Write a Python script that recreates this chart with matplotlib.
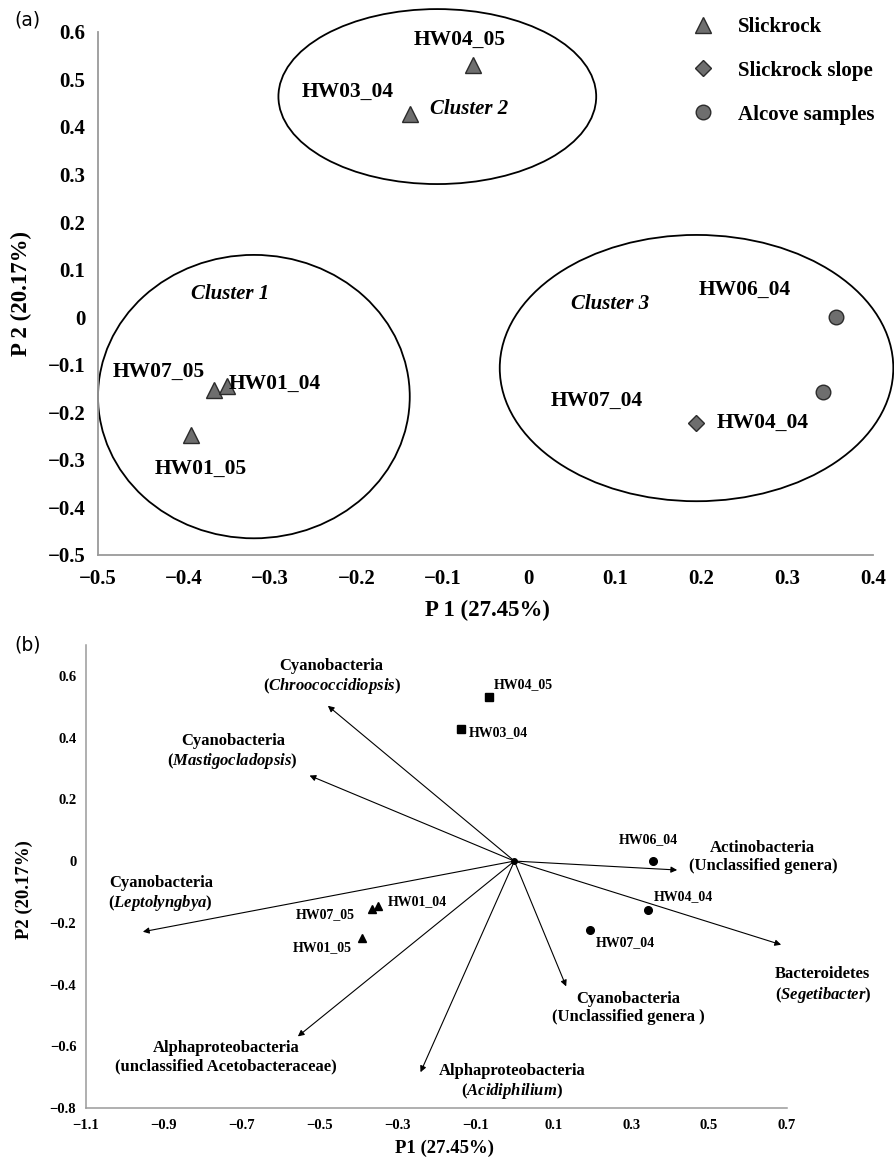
import matplotlib
matplotlib.use('Agg')
import matplotlib.pyplot as plt
from matplotlib.patches import Ellipse
from matplotlib.ticker import FuncFormatter, FixedLocator

plt.rcParams['font.family'] = ['Liberation Serif', 'DejaVu Serif']
plt.rcParams['font.weight'] = 'bold'
plt.rcParams['axes.labelweight'] = 'bold'
plt.rcParams['mathtext.fontset'] = 'custom'
plt.rcParams['mathtext.it'] = 'Liberation Serif:italic:bold'
plt.rcParams['mathtext.rm'] = 'Liberation Serif:bold'

# sample scores (same in both panels)
samples = ['HW04_05', 'HW03_04', 'HW07_05', 'HW01_04', 'HW01_05', 'HW06_04', 'HW04_04', 'HW07_04']
p1 = [-0.064, -0.138, -0.365, -0.350, -0.392, 0.357, 0.342, 0.194]
p2 = [0.531, 0.428, -0.154, -0.145, -0.248, 0.000, -0.157, -0.223]
site = ['Slickrock', 'Slickrock', 'Slickrock', 'Slickrock', 'Slickrock',
        'Alcove samples', 'Alcove samples', 'Slickrock slope']
cluster = [2, 2, 1, 1, 1, 3, 3, 3]

# cluster ellipses, panel (a)
clusters = ['Cluster 1', 'Cluster 2', 'Cluster 3']
ell_x = [-0.319, -0.106, 0.195]
ell_y = [-0.167, 0.464, -0.107]
ell_w = [0.362, 0.369, 0.457]
ell_h = [0.596, 0.368, 0.560]

# taxa loadings, panel (b)
taxa = ['Cyanobacteria\n($\\mathit{Chroococcidiopsis}$)',
        'Cyanobacteria\n($\\mathit{Mastigocladopsis}$)',
        'Cyanobacteria\n($\\mathit{Leptolyngbya}$)',
        'Alphaproteobacteria\n(unclassified Acetobacteraceae)',
        'Alphaproteobacteria\n($\\mathit{Acidiphilium}$)',
        'Cyanobacteria\n(Unclassified genera )',
        'Bacteroidetes\n($\\mathit{Segetibacter}$)',
        'Actinobacteria\n(Unclassified genera)']
load1 = [-0.479, -0.526, -0.954, -0.556, -0.241, 0.133, 0.685, 0.418]
load2 = [0.503, 0.277, -0.229, -0.568, -0.684, -0.406, -0.271, -0.029]

# label placement (layout)
a_lab = {'HW04_05': (-0.080, 0.583), 'HW03_04': (-0.210, 0.474), 'HW07_05': (-0.429, -0.116),
         'HW01_04': (-0.295, -0.141), 'HW01_05': (-0.381, -0.320), 'HW06_04': (0.251, 0.057),
         'HW04_04': (0.272, -0.223), 'HW07_04': (0.079, -0.177)}
a_clu = [(-0.347, 0.048), (-0.069, 0.438), (0.095, 0.027)]
b_lab = {'HW04_05': (-0.052, 0.571, 'left'), 'HW03_04': (-0.117, 0.416, 'left'),
         'HW07_05': (-0.486, -0.174, 'center'), 'HW01_04': (-0.325, -0.132, 'left'),
         'HW01_05': (-0.494, -0.281, 'center'), 'HW06_04': (0.343, 0.071, 'center'),
         'HW04_04': (0.433, -0.116, 'center'), 'HW07_04': (0.286, -0.265, 'center')}
taxa_pos = [(-0.469, 0.597), (-0.723, 0.352), (-0.908, -0.106), (-0.741, -0.635),
            (-0.006, -0.716), (0.292, -0.477), (0.792, -0.403), (0.638, 0.013)]


def fmt(v, pos):
    if abs(v) < 1e-9:
        return '0'
    return f'{v:.1f}'.replace('-', '\u2212')


fig = plt.figure(figsize=(8.95, 11.6), dpi=100)

# ---------------- panel (a)
ax = fig.add_axes([0.1095, 0.5216, 0.866, 0.4509])
markers_a = {'Slickrock': ('^', 12), 'Slickrock slope': ('D', 8.5), 'Alcove samples': ('o', 10.5)}
for name in ['Slickrock', 'Slickrock slope', 'Alcove samples']:
    xs = [x for x, s in zip(p1, site) if s == name]
    ys = [y for y, s in zip(p2, site) if s == name]
    m, ms = markers_a[name]
    ax.plot(xs, ys, linestyle='none', marker=m, ms=ms, mfc='#6e6e6e', mec='#2b2b2b',
            mew=1.0, label=name, zorder=3)

for i in range(len(clusters)):
    ax.add_patch(Ellipse((ell_x[i], ell_y[i]), ell_w[i], ell_h[i], fill=False,
                         ec='black', lw=1.3, clip_on=False))
    ax.text(a_clu[i][0], a_clu[i][1], clusters[i], style='italic', fontsize=15,
            ha='center', va='center')

for s in samples:
    x, y = a_lab[s]
    ax.text(x, y, s, fontsize=15.5, ha='center', va='center')

ax.set_xlim(-0.5, 0.4)
ax.set_ylim(-0.5, 0.6)
ax.xaxis.set_major_locator(FixedLocator([-0.5, -0.4, -0.3, -0.2, -0.1, 0, 0.1, 0.2, 0.3, 0.4]))
ax.yaxis.set_major_locator(FixedLocator([-0.5, -0.4, -0.3, -0.2, -0.1, 0, 0.1, 0.2, 0.3, 0.4, 0.5, 0.6]))
ax.xaxis.set_major_formatter(FuncFormatter(fmt))
ax.yaxis.set_major_formatter(FuncFormatter(fmt))
ax.tick_params(length=0, labelsize=15)
ax.tick_params(axis='y', pad=9)
ax.tick_params(axis='x', pad=10)
for sp in ['top', 'right']:
    ax.spines[sp].set_visible(False)
for sp in ['left', 'bottom']:
    ax.spines[sp].set_color('#9a9a9a')
    ax.spines[sp].set_linewidth(1.3)
ax.set_xlabel('P 1 (27.45%)', fontsize=16.5)
ax.set_ylabel('P 2 (20.17%)', fontsize=16.5)
ax.xaxis.set_label_coords(0.503, -0.086)
ax.yaxis.set_label_coords(-0.085, 0.499)

ax.legend(loc='upper left', bbox_to_anchor=(0.762, 0.9945), bbox_transform=fig.transFigure,
          frameon=False, fontsize=15, handlelength=1.0, handletextpad=1.17,
          labelspacing=1.15, borderpad=0)

fig.text(0.031, 0.983, '(a)', family='DejaVu Sans', fontsize=13.5, fontweight='normal',
         ha='center', va='center')

# ---------------- panel (b)
bx = fig.add_axes([0.0961, 0.0448, 0.7832, 0.3992])
markers_b = {1: '^', 2: 's', 3: 'o'}
for c in [1, 2, 3]:
    xs = [x for x, k in zip(p1, cluster) if k == c]
    ys = [y for y, k in zip(p2, cluster) if k == c]
    bx.plot(xs, ys, linestyle='none', marker=markers_b[c], ms=5.5, color='black', zorder=3)

for i in range(len(taxa)):
    bx.annotate('', xy=(load1[i], load2[i]), xytext=(0, 0),
                arrowprops=dict(arrowstyle='-|>', color='black', lw=0.8,
                                mutation_scale=9, shrinkA=0, shrinkB=0))
    bx.text(taxa_pos[i][0], taxa_pos[i][1], taxa[i], fontsize=12, ha='center',
            va='center', multialignment='center', linespacing=1.15)
bx.plot([0], [0], 'o', color='black', ms=4, zorder=4)

for s in samples:
    x, y, ha = b_lab[s]
    bx.text(x, y, s, fontsize=10, ha=ha, va='center')

bx.set_xlim(-1.1, 0.7)
bx.set_ylim(-0.8, 0.7)
bx.xaxis.set_major_locator(FixedLocator([-1.1, -0.9, -0.7, -0.5, -0.3, -0.1, 0.1, 0.3, 0.5, 0.7]))
bx.yaxis.set_major_locator(FixedLocator([-0.8, -0.6, -0.4, -0.2, 0, 0.2, 0.4, 0.6]))
bx.xaxis.set_major_formatter(FuncFormatter(fmt))
bx.yaxis.set_major_formatter(FuncFormatter(fmt))
bx.tick_params(length=0, labelsize=10.5)
bx.tick_params(axis='y', pad=7)
bx.tick_params(axis='x', pad=8)
for sp in ['top', 'right']:
    bx.spines[sp].set_visible(False)
for sp in ['left', 'bottom']:
    bx.spines[sp].set_color('#9a9a9a')
    bx.spines[sp].set_linewidth(1.1)
bx.set_xlabel('P1 (27.45%)', fontsize=13.5)
bx.set_ylabel('P2 (20.17%)', fontsize=13.5)
bx.xaxis.set_label_coords(0.511, -0.068)
bx.yaxis.set_label_coords(-0.076, 0.471)

fig.text(0.031, 0.444, '(b)', family='DejaVu Sans', fontsize=13.5, fontweight='normal',
         ha='center', va='center')

fig.savefig('out.png', dpi=100)
